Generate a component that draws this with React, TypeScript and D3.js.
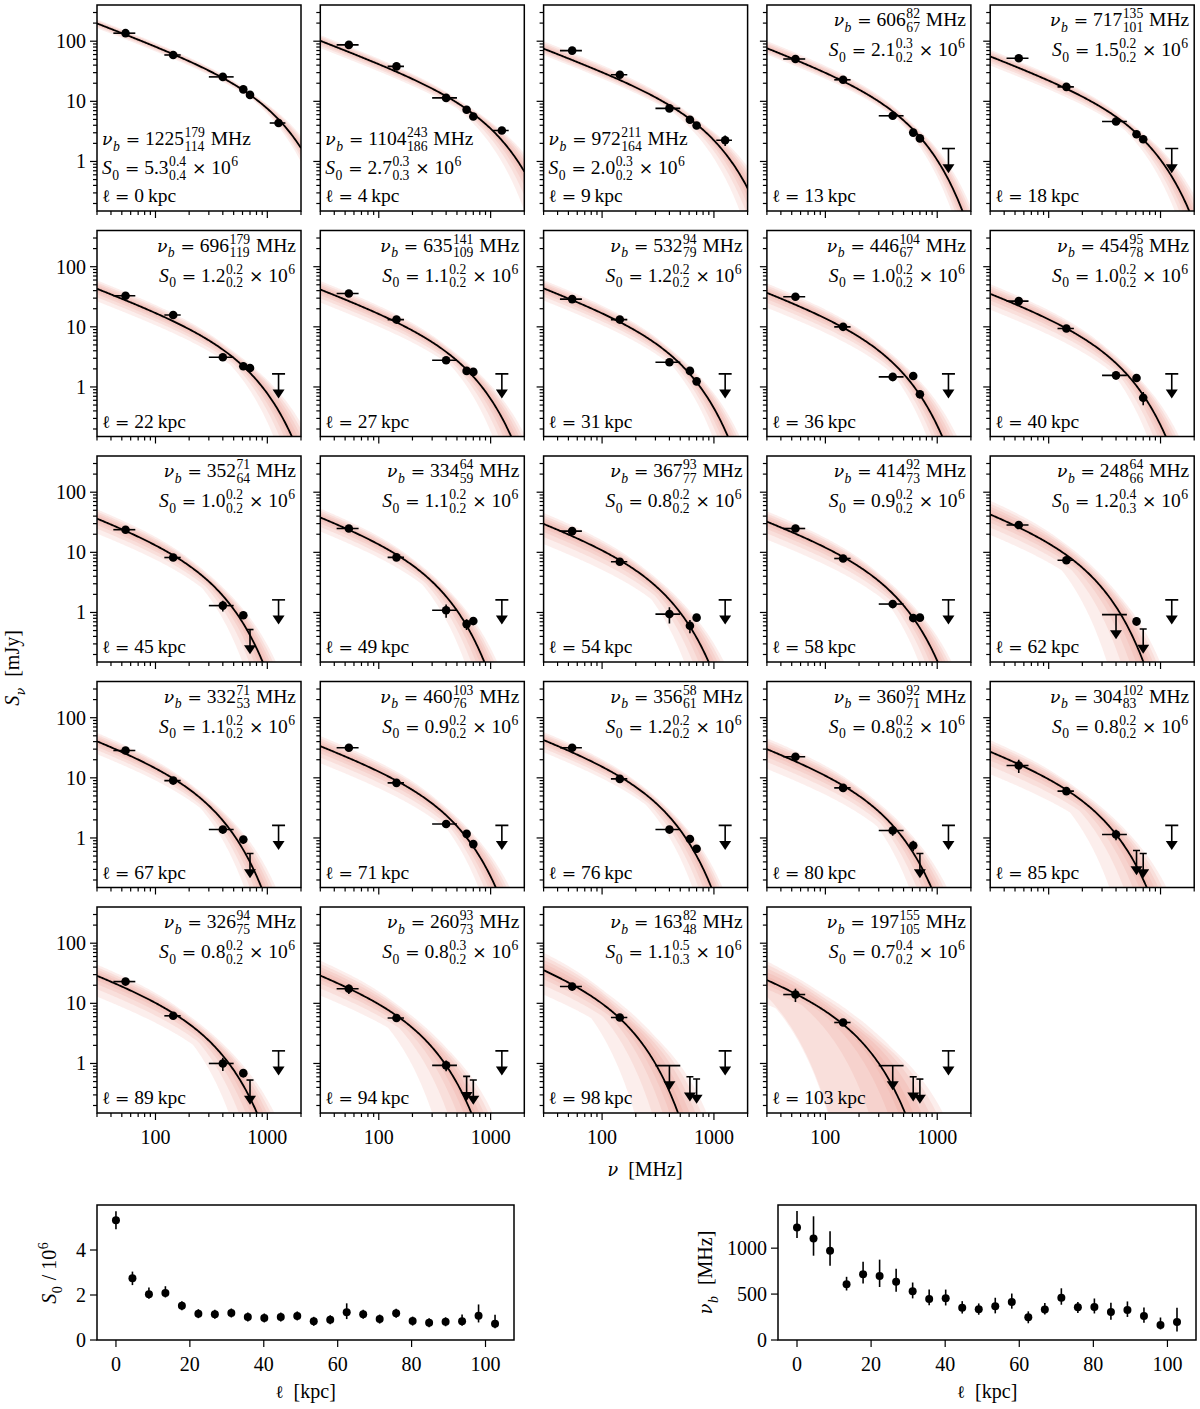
import * as d3 from "d3";
import { useEffect, useRef } from "react";

// distance along the tail (kpc), one per panel
const ell = [0, 4.46, 8.92, 13.38, 17.84, 22.3, 26.76, 31.22, 35.68, 40.14, 44.6, 49.06,
  53.52, 57.98, 62.44, 66.9, 71.36, 75.82, 80.28, 84.74, 89.2, 93.66, 98.12, 102.58];

// fitted break frequency (MHz) with upper / lower errors
const nuB = [1225, 1104, 972, 606, 717, 696, 635, 532, 446, 454, 352, 334, 367, 414, 248, 332, 460, 356, 360, 304, 326, 260, 163, 197];
const nuBHi = [179, 243, 211, 82, 135, 179, 141, 94, 104, 95, 71, 64, 93, 92, 64, 71, 103, 58, 92, 102, 94, 93, 82, 155];
const nuBLo = [114, 186, 164, 67, 101, 119, 109, 79, 67, 78, 64, 59, 77, 73, 66, 53, 76, 61, 71, 83, 75, 73, 48, 105];

// fitted normalisation (units of 1e6) with upper / lower errors
const s0 = [5.32, 2.74, 2.03, 2.09, 1.52, 1.17, 1.14, 1.2, 1.02, 0.98, 1.02, 1.07, 0.83, 0.9, 1.23, 1.14, 0.93, 1.19, 0.84, 0.77, 0.81, 0.83, 1.08, 0.72];
const s0Hi = [0.4, 0.3, 0.3, 0.3, 0.2, 0.2, 0.2, 0.2, 0.2, 0.2, 0.2, 0.2, 0.2, 0.2, 0.4, 0.2, 0.2, 0.2, 0.2, 0.2, 0.2, 0.3, 0.5, 0.4];
const s0Lo = [0.4, 0.3, 0.2, 0.2, 0.2, 0.2, 0.2, 0.2, 0.2, 0.2, 0.2, 0.2, 0.2, 0.2, 0.3, 0.2, 0.2, 0.2, 0.2, 0.2, 0.2, 0.2, 0.3, 0.2];

// observing frequencies (MHz) and band edges
const freqs = [54, 144, 400, 610, 700, 1260];
const bandLo = [42, 120, 300, 0, 0, 1050];
const bandHi = [66, 168, 500, 0, 0, 1450];

// flux densities (mJy), per panel, per frequency
const flux = [
  [136, 59, 25.5, 15.8, 12.8, 4.36],
  [86.8, 38.1, 11.4, 7.25, 5.6, 3.27],
  [69.8, 27.6, 7.63, 4.93, 3.96, 2.25],
  [50.6, 22.8, 5.75, 3.02, 2.42, 1.64],
  [52, 17.4, 4.62, 2.84, 2.34, 1.64],
  [32.8, 15.7, 3.12, 2.21, 2.07, 1.65],
  [35.9, 13.2, 2.78, 1.85, 1.78, 1.65],
  [28.9, 13.2, 2.58, 1.85, 1.24, 1.65],
  [31.6, 10.0, 1.47, 1.52, 0.755, 1.65],
  [26.8, 9.4, 1.56, 1.41, 0.66, 1.65],
  [23.8, 8.2, 1.3, 0.9, 0.52, 1.62],
  [24.9, 8.25, 1.09, 0.64, 0.72, 1.62],
  [22.5, 6.98, 0.94, 0.6, 0.82, 1.62],
  [24.9, 7.9, 1.38, 0.81, 0.82, 1.62],
  [28.4, 7.4, 0.92, 0.71, 0.53, 1.62],
  [28.5, 9.0, 1.38, 0.94, 0.55, 1.62],
  [31.6, 8.25, 1.71, 1.17, 0.79, 1.62],
  [31.6, 9.6, 1.38, 0.96, 0.66, 1.62],
  [22.4, 6.8, 1.33, 0.75, 0.55, 1.62],
  [16.0, 6.0, 1.14, 0.62, 0.55, 1.62],
  [23, 6.2, 1.0, 0.69, 0.53, 1.62],
  [17.5, 5.7, 0.93, 0.61, 0.53, 1.62],
  [19, 5.8, 0.92, 0.6, 0.55, 1.62],
  [14, 4.8, 0.92, 0.6, 0.55, 1.62],
];
// relative 1-sigma errors
const fluxErr = [
  [0.07, 0.05, 0.06, 0.05, 0.05, 0.08],
  [0.08, 0.06, 0.08, 0.06, 0.06, 0.1],
  [0.08, 0.07, 0.08, 0.07, 0.07, 0.2],
  [0.08, 0.07, 0.09, 0.08, 0.08, 0],
  [0.08, 0.07, 0.09, 0.08, 0.08, 0],
  [0.1, 0.1, 0.1, 0.1, 0.1, 0],
  [0.1, 0.08, 0.12, 0.1, 0.1, 0],
  [0.1, 0.08, 0.12, 0.1, 0.12, 0],
  [0.1, 0.08, 0.15, 0.1, 0.15, 0],
  [0.1, 0.08, 0.15, 0.1, 0.25, 0],
  [0.12, 0.08, 0.2, 0.12, 0, 0],
  [0.12, 0.08, 0.25, 0.2, 0.15, 0],
  [0.12, 0.08, 0.3, 0.25, 0.12, 0],
  [0.12, 0.08, 0.15, 0.15, 0.12, 0],
  [0.12, 0.08, 0, 0.15, 0, 0],
  [0.12, 0.08, 0.15, 0.15, 0, 0],
  [0.1, 0.08, 0.12, 0.12, 0.12, 0],
  [0.1, 0.08, 0.15, 0.15, 0.15, 0],
  [0.12, 0.08, 0.18, 0.2, 0, 0],
  [0.25, 0.08, 0.2, 0, 0, 0],
  [0.12, 0.08, 0.25, 0.15, 0, 0],
  [0.18, 0.08, 0.2, 0, 0, 0],
  [0.15, 0.08, 0, 0, 0, 0],
  [0.25, 0.1, 0, 0, 0, 0],
];
// d = detection, u = upper limit
const kind = [
  "dddddd", "dddddd", "dddddd", "dddddu", "dddddu",
  "dddddu", "dddddu", "dddddu", "dddddu", "dddddu",
  "dddduu", "dddddu", "dddddu", "dddddu", "dduduu",
  "dddduu", "dddddu", "dddddu", "dddduu", "ddduuu",
  "dddduu", "ddduuu", "dduuuu", "dduuuu",
];

// spectral model: S = N S0 nu^-a exp(-(nu/nu_b)^p)
const ALPHA = 0.71;
const CUTP = 1.2;
const NORM = 4.2e-4;
const model = (nu: number, s: number, nb: number) =>
  Math.max(1e-6, NORM * s * 1e6 * Math.pow(nu, -ALPHA) * Math.exp(-Math.pow(nu / nb, CUTP)));

const FONT = "'Liberation Serif', 'DejaVu Serif', serif";
const GFONT = "'DejaVu Serif', serif";
const TICK_FS = 20;
const ANN_FS = 19.5;

type Seg = { t?: string; it?: boolean; g?: boolean; sub?: string; sup?: string; subIt?: boolean };

function rich(parent: any, segs: Seg[], x: number, y: number, anchor: "start" | "end" | "middle", fs: number, rotate = false) {
  const outer = parent.append("g").attr("transform", `translate(${x},${y})${rotate ? " rotate(-90)" : ""}`);
  const g = outer.append("g");
  let cx = 0;
  const put = (txt: string, px: number, py: number, size: number, it: boolean, greek = false) => {
    const el = g.append("text").attr("x", px).attr("y", py).attr("font-size", greek ? size * 0.88 : size)
      .attr("font-family", greek ? GFONT : FONT).attr("font-style", it ? "italic" : "normal").attr("fill", "#000").text(txt);
    return (el.node() as SVGTextElement).getComputedTextLength();
  };
  for (const s of segs) {
    if (s.t) cx += put(s.t, cx, 0, fs, !!s.it, !!s.g);
    if (s.sup !== undefined || s.sub !== undefined) {
      let w = 0;
      if (s.sup) w = Math.max(w, put(s.sup, cx + 0.5, -fs * 0.4, fs * 0.7, false));
      if (s.sub) w = Math.max(w, put(s.sub, cx + 0.5, fs * 0.3, fs * 0.7, !!s.subIt, s.sub === "ν"));
      cx += w + 1.5;
    }
  }
  const dx = anchor === "end" ? -cx : anchor === "middle" ? -cx / 2 : 0;
  g.attr("transform", `translate(${dx},0)`);
}

const NB = "\u00a0";

export default function App() {
  const ref = useRef<SVGSVGElement>(null);
  useEffect(() => {
    if (!ref.current) return;
    const svg = d3.select(ref.current);
    svg.selectAll("*").remove();

    const L = 97, T = 5, CS = 223.3, RS = 225.5, PW = 204, PH = 206;
    const x = d3.scaleLog().domain([30, 2000]).range([0, PW]);
    const y = d3.scaleLog().domain([0.15, 400]).range([PH, 0]);
    const nuGrid = d3.range(0, 201).map((i) => x.invert((i / 200) * PW));
    const xMinor = [30, 40, 50, 60, 70, 80, 90, 200, 300, 400, 500, 600, 700, 800, 900, 2000];
    const yMinor = [0.2, 0.3, 0.4, 0.5, 0.6, 0.7, 0.8, 0.9, 2, 3, 4, 5, 6, 7, 8, 9, 20, 30, 40, 50, 60, 70, 80, 90, 200, 300];
    const defs = svg.append("defs");

    ell.forEach((l, i) => {
      const col = i % 5, row = Math.floor(i / 5);
      const g = svg.append("g").attr("transform", `translate(${L + col * CS},${T + row * RS})`);
      defs.append("clipPath").attr("id", `cp${i}`).append("rect").attr("width", PW).attr("height", PH);
      const pg = g.append("g").attr("clip-path", `url(#cp${i})`);

      // posterior bands
      [1.5, 1.1, 0.75, 0.45, 0.2].forEach((k) => {
        const band = nuGrid.map((nu) => {
          let lo = Infinity, hi = -Infinity;
          for (let t = -1; t <= 1.001; t += 0.25) {
            for (const u of [-0.5, 0, 0.5]) {
              const a = t + u, b = -t + u;
              const sv = s0[i] + k * (a > 0 ? a * s0Hi[i] : a * s0Lo[i]);
              const nv = nuB[i] + k * (b > 0 ? b * nuBHi[i] : b * nuBLo[i]);
              const v = model(nu, Math.max(sv, 0.05), Math.max(nv, 30));
              lo = Math.min(lo, v); hi = Math.max(hi, v);
            }
          }
          return { nu, lo, hi };
        });
        pg.append("path").datum(band)
          .attr("d", d3.area<any>().x((d) => x(d.nu)).y0((d) => Math.min(y(d.lo), PH + 50)).y1((d) => Math.min(y(d.hi), PH + 50)))
          .attr("fill", "#ec8479").attr("opacity", 0.14);
      });

      // best-fit curve
      pg.append("path").datum(nuGrid)
        .attr("d", d3.line<number>().x((d) => x(d)).y((d) => Math.min(y(model(d, s0[i], nuB[i])), PH + 50)))
        .attr("fill", "none").attr("stroke", "#000").attr("stroke-width", 1.8);

      // data
      freqs.forEach((nu, j) => {
        const v = flux[i][j];
        const cx = x(nu), cy = y(v);
        const hasBand = bandHi[j] > 0;
        if (kind[i][j] === "u") {
          let x1 = cx - 3.5, x2 = cx + 3.5;
          if (j === 5) { x1 = cx - 6.5; x2 = cx + 6.5; }
          else if (hasBand) { x1 = x(bandLo[j]); x2 = x(bandHi[j]); }
          const ty = y(v * 0.47);
          pg.append("line").attr("x1", x1).attr("x2", x2).attr("y1", cy).attr("y2", cy).attr("stroke", "#000").attr("stroke-width", 1.6);
          pg.append("line").attr("x1", cx).attr("x2", cx).attr("y1", cy).attr("y2", ty).attr("stroke", "#000").attr("stroke-width", 1.6);
          pg.append("path").attr("d", `M${cx - 6},${ty - 4}L${cx + 6},${ty - 4}L${cx},${ty + 5}Z`).attr("fill", "#000");
        } else {
          const e = fluxErr[i][j];
          pg.append("line").attr("x1", cx).attr("x2", cx).attr("y1", y(v * (1 + e))).attr("y2", y(v * (1 - e)))
            .attr("stroke", "#000").attr("stroke-width", 1.6);
          if (hasBand) {
            pg.append("line").attr("x1", x(bandLo[j])).attr("x2", x(bandHi[j])).attr("y1", cy).attr("y2", cy)
              .attr("stroke", "#000").attr("stroke-width", 1.6);
          }
          pg.append("circle").attr("cx", cx).attr("cy", cy).attr("r", 4.3).attr("fill", "#000");
        }
      });

      // frame and ticks
      g.append("rect").attr("width", PW).attr("height", PH).attr("fill", "none").attr("stroke", "#000").attr("stroke-width", 1.5);
      const tk = g.append("g").attr("stroke", "#000").attr("stroke-width", 1.2);
      [100, 1000].forEach((v) => tk.append("line").attr("x1", x(v)).attr("x2", x(v)).attr("y1", PH).attr("y2", PH + 7));
      xMinor.forEach((v) => tk.append("line").attr("x1", x(v)).attr("x2", x(v)).attr("y1", PH).attr("y2", PH + 4));
      [1, 10, 100].forEach((v) => tk.append("line").attr("x1", 0).attr("x2", -7).attr("y1", y(v)).attr("y2", y(v)));
      yMinor.forEach((v) => tk.append("line").attr("x1", 0).attr("x2", -4).attr("y1", y(v)).attr("y2", y(v)));

      if (col === 0) {
        [1, 10, 100].forEach((v) => g.append("text").attr("x", -11).attr("y", y(v) + 7).attr("text-anchor", "end")
          .attr("font-family", FONT).attr("font-size", TICK_FS).text(String(v)));
      }
      if (row === 4) {
        [100, 1000].forEach((v) => g.append("text").attr("x", x(v)).attr("y", PH + 31).attr("text-anchor", "middle")
          .attr("font-family", FONT).attr("font-size", TICK_FS).text(String(v)));
      }

      // annotations
      const nuSegs: Seg[] = [{ t: "ν", it: true, g: true, sub: "b", subIt: true }, { t: NB }, { t: "=", g: true },
        { t: `${NB}${nuB[i]}`, sup: `${nuBHi[i]}`, sub: `${nuBLo[i]}` }, { t: `${NB}MHz` }];
      const sSegs: Seg[] = [{ t: "S", it: true, sub: "0" }, { t: NB }, { t: "=", g: true },
        { t: `${NB}${s0[i].toFixed(1)}`, sup: s0Hi[i].toFixed(1), sub: s0Lo[i].toFixed(1) }, { t: NB }, { t: "×", g: true }, { t: `${NB}10`, sup: "6" }];
      const lSegs: Seg[] = [{ t: "ℓ", g: true }, { t: NB }, { t: "=", g: true }, { t: `${NB}${Math.round(l)}\u2009kpc` }];
      if (i < 3) {
        rich(g, nuSegs, 5, 140, "start", ANN_FS);
        rich(g, sSegs, 5, 169, "start", ANN_FS);
      } else {
        rich(g, nuSegs, PW - 5, 21, "end", ANN_FS);
        rich(g, sSegs, PW - 5, 51, "end", ANN_FS);
      }
      rich(g, lSegs, 5, 197, "start", ANN_FS);
    });

    // shared axis labels
    rich(svg, [{ t: "ν", it: true, g: true }, { t: `${NB}${NB}[MHz]` }], 645, 1176, "middle", TICK_FS);
    rich(svg, [{ t: "S", it: true, sub: "ν", subIt: true }, { t: `${NB}${NB}[mJy]` }], 19, 668, "middle", TICK_FS, true);

    // bottom summary panels
    const bx = d3.scaleLinear().domain([-5.13, 107.71]);
    const drawSummary = (left: number, right: number, vals: number[], hi: number[], lo: number[], ymax: number, yticks: number[], ylab: Seg[], ylabX: number) => {
      const top = 1205, bot = 1340;
      const sx = bx.copy().range([left, right]);
      const sy = d3.scaleLinear().domain([0, ymax]).range([bot, top]);
      const g = svg.append("g");
      ell.forEach((l, i) => {
        g.append("line").attr("x1", sx(l)).attr("x2", sx(l)).attr("y1", sy(vals[i] + hi[i])).attr("y2", sy(vals[i] - lo[i]))
          .attr("stroke", "#000").attr("stroke-width", 1.6);
        g.append("circle").attr("cx", sx(l)).attr("cy", sy(vals[i])).attr("r", 4).attr("fill", "#000");
      });
      g.append("rect").attr("x", left).attr("y", top).attr("width", right - left).attr("height", bot - top)
        .attr("fill", "none").attr("stroke", "#000").attr("stroke-width", 1.5);
      [0, 20, 40, 60, 80, 100].forEach((v) => {
        g.append("line").attr("x1", sx(v)).attr("x2", sx(v)).attr("y1", bot).attr("y2", bot + 7).attr("stroke", "#000").attr("stroke-width", 1.2);
        g.append("text").attr("x", sx(v)).attr("y", bot + 31).attr("text-anchor", "middle").attr("font-family", FONT).attr("font-size", TICK_FS).text(String(v));
      });
      yticks.forEach((v) => {
        g.append("line").attr("x1", left).attr("x2", left - 7).attr("y1", sy(v)).attr("y2", sy(v)).attr("stroke", "#000").attr("stroke-width", 1.2);
        g.append("text").attr("x", left - 11).attr("y", sy(v) + 7).attr("text-anchor", "end").attr("font-family", FONT).attr("font-size", TICK_FS).text(String(v));
      });
      rich(svg, [{ t: "ℓ", g: true }, { t: `${NB}${NB}[kpc]` }], (left + right) / 2, 1398, "middle", TICK_FS);
      rich(svg, ylab, ylabX, (top + bot) / 2, "middle", TICK_FS, true);
    };
    drawSummary(97, 514, s0, s0Hi, s0Lo, 6.0, [0, 2, 4],
      [{ t: "S", it: true, sub: "0" }, { t: `${NB}/${NB}10`, sup: "6" }], 56);
    drawSummary(778, 1196, nuB, nuBHi, nuBLo, 1470, [0, 500, 1000],
      [{ t: "ν", it: true, g: true, sub: "b", subIt: true }, { t: `${NB}${NB}[MHz]` }], 712);
  }, []);
  return <svg ref={ref} width={1200} height={1409} style={{ position: "absolute", left: 0, top: 0, background: "#fff" }} />;
}
